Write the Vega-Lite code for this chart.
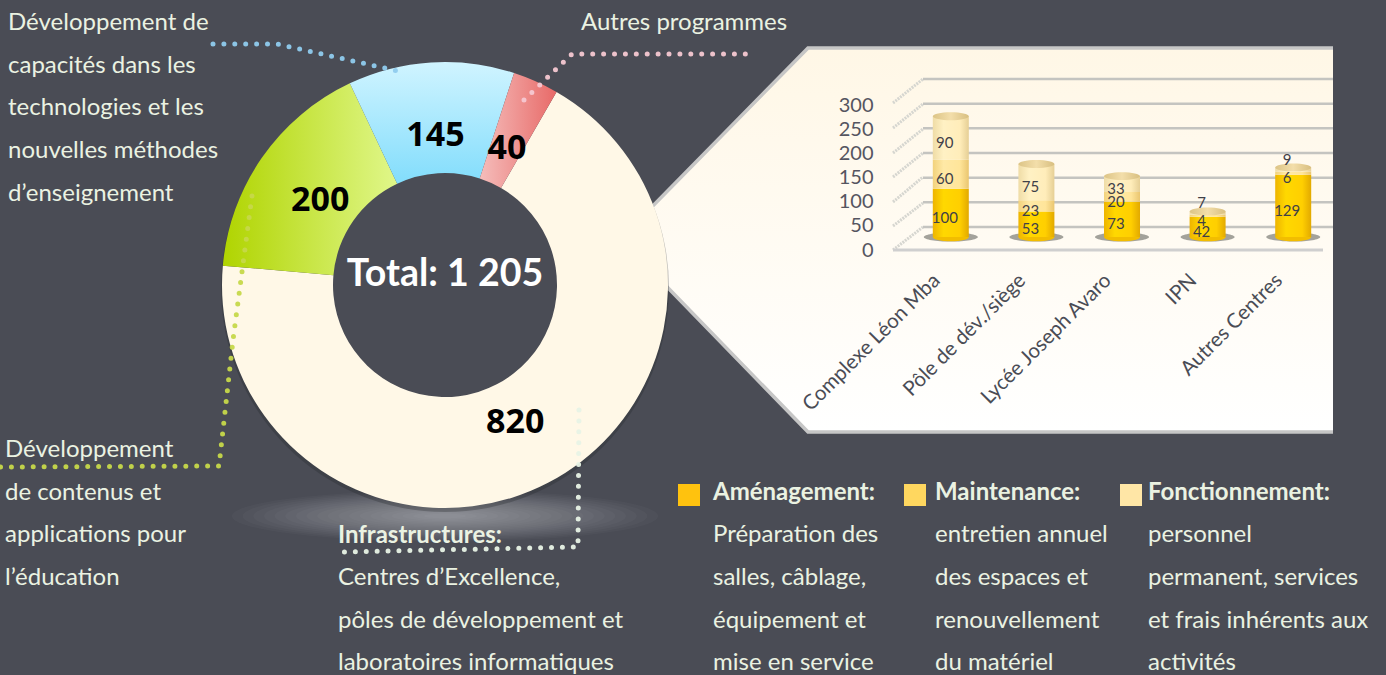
{
"$schema":"https://vega.github.io/schema/vega-lite/v6.json",
"width":1386,"height":675,"padding":0,"autosize":"none","background":"#4a4c55",
"config":{"view":{"stroke":null},"text":{"font":"Lato"}},
"datasets":{
"programmes":[
{"programme":"Infrastructures","montant":820,"rang":1},
{"programme":"Développement de contenus","montant":200,"rang":2},
{"programme":"Développement de capacités","montant":145,"rang":3},
{"programme":"Autres programmes","montant":40,"rang":4}],
"centres":[
{"site":"Complexe Léon Mba","poste":"Aménagement","value":100,"rang":1},
{"site":"Complexe Léon Mba","poste":"Maintenance","value":60,"rang":2},
{"site":"Complexe Léon Mba","poste":"Fonctionnement","value":90,"rang":3},
{"site":"Pôle de dév./siège","poste":"Aménagement","value":53,"rang":1},
{"site":"Pôle de dév./siège","poste":"Maintenance","value":23,"rang":2},
{"site":"Pôle de dév./siège","poste":"Fonctionnement","value":75,"rang":3},
{"site":"Lycée Joseph Avaro","poste":"Aménagement","value":73,"rang":1},
{"site":"Lycée Joseph Avaro","poste":"Maintenance","value":20,"rang":2},
{"site":"Lycée Joseph Avaro","poste":"Fonctionnement","value":33,"rang":3},
{"site":"IPN","poste":"Aménagement","value":42,"rang":1},
{"site":"IPN","poste":"Maintenance","value":4,"rang":2},
{"site":"IPN","poste":"Fonctionnement","value":7,"rang":3},
{"site":"Autres Centres","poste":"Aménagement","value":129,"rang":1},
{"site":"Autres Centres","poste":"Maintenance","value":6,"rang":2},
{"site":"Autres Centres","poste":"Fonctionnement","value":9,"rang":3}],
"graduations":[{"t":0},{"t":50},{"t":100},{"t":150},{"t":200},{"t":250},{"t":300}],
"panneau":[{"x":640,"y":219,"y2":259},{"x":808,"y":48,"y2":432},{"x":1333,"y":48,"y2":432}],
"cadre":[
{"k":"haut","i":1,"x":640,"y":219},{"k":"haut","i":2,"x":808,"y":48},{"k":"haut","i":3,"x":1333,"y":48},
{"k":"bas","i":1,"x":640,"y":259},{"k":"bas","i":2,"x":808,"y":432},{"k":"bas","i":3,"x":1333,"y":432}],
"parois":[
{"x":893,"y":250,"x2":923,"y2":227},{"x":893,"y":226,"x2":923,"y2":203},{"x":893,"y":202,"x2":923,"y2":177},
{"x":893,"y":177,"x2":923,"y2":153},{"x":893,"y":153,"x2":923,"y2":129},{"x":893,"y":128,"x2":923,"y2":104},{"x":893,"y":103,"x2":923,"y2":79}],
"sol":[{"x":893,"y":250,"x2":1323,"y2":250}],
"ombre":[{"s":181476},{"s":163782},{"s":146996},{"s":131116},{"s":116145},{"s":102080},{"s":88923},{"s":76674},{"s":65331},{"s":54896},{"s":45369},{"s":36749},{"s":29036},{"s":22231},{"s":16333},{"s":11342},{"s":7259},{"s":4083},{"s":1815}],
"filets":[
{"f":"capacites","i":1,"x":213,"y":44},{"f":"capacites","i":2,"x":277,"y":44},{"f":"capacites","i":3,"x":398,"y":71},
{"f":"autres","i":1,"x":524,"y":100},{"f":"autres","i":2,"x":572,"y":54},{"f":"autres","i":3,"x":753,"y":54},
{"f":"contenus","i":1,"x":252,"y":196},{"f":"contenus","i":2,"x":233,"y":340},{"f":"contenus","i":3,"x":219,"y":466},{"f":"contenus","i":4,"x":0,"y":467},
{"f":"infra","i":1,"x":579,"y":410},{"f":"infra","i":2,"x":578,"y":547},{"f":"infra","i":3,"x":340,"y":552}],
"carres":[{"poste":"Aménagement","x":689,"y":495},{"poste":"Maintenance","x":915,"y":495},{"poste":"Fonctionnement","x":1131,"y":495}],
"titres":[
{"t":"Infrastructures:","x":338,"y":534},{"t":"Aménagement:","x":713,"y":491},{"t":"Maintenance:","x":935,"y":491},{"t":"Fonctionnement:","x":1148,"y":491}],
"lignes":[
{"t":"Développement de","x":8,"y":22},{"t":"capacités dans les","x":8,"y":65},{"t":"technologies et  les","x":8,"y":107},{"t":"nouvelles méthodes","x":8,"y":150},{"t":"d’enseignement","x":8,"y":193},
{"t":"Autres programmes","x":581,"y":22},
{"t":"Développement","x":5,"y":449},{"t":"de contenus et","x":5,"y":492},{"t":"applications pour","x":5,"y":534},{"t":"l’éducation","x":5,"y":577},
{"t":"Centres d’Excellence,","x":338,"y":577},{"t":"pôles de développement et","x":338,"y":620},{"t":"laboratoires informatiques","x":338,"y":662},
{"t":"Préparation des","x":713,"y":534},{"t":"salles, câblage,","x":713,"y":577},{"t":"équipement et","x":713,"y":620},{"t":"mise en service","x":713,"y":662},
{"t":"entretien annuel","x":935,"y":534},{"t":"des espaces et","x":935,"y":577},{"t":"renouvellement","x":935,"y":620},{"t":"du matériel","x":935,"y":662},
{"t":"personnel","x":1148,"y":534},{"t":"permanent, services","x":1148,"y":577},{"t":"et frais inhérents aux","x":1148,"y":620},{"t":"activités","x":1148,"y":662}]
},
"resolve":{"scale":{"x":"independent","y":"independent","theta":"independent"},"axis":{"x":"independent","y":"independent"}},
"layer":[
{"data":{"name":"ombre"},"mark":{"type":"point","filled":true,"fill":"#ffffff","opacity":0.028,"shape":"M-1,0A1,0.12,0,1,1,1,0A1,0.12,0,1,1,-1,0Z"},
"encoding":{
"x":{"datum":445,"type":"quantitative","axis":null,"scale":{"domain":[0,1386],"range":[0,1386],"nice":false,"zero":false}},
"y":{"datum":516,"type":"quantitative","axis":null,"scale":{"domain":[0,675],"range":[0,675],"nice":false,"zero":false}},
"size":{"field":"s","type":"quantitative","scale":null}}},
{"encoding":{
"x":{"field":"x","type":"quantitative","axis":null,"scale":{"domain":[0,1386],"range":[0,1386],"nice":false,"zero":false}},
"y":{"field":"y","type":"quantitative","axis":null,"scale":{"domain":[0,675],"range":[0,675],"nice":false,"zero":false}}},
"layer":[
{"data":{"name":"panneau"},"mark":{"type":"area","fill":{"gradient":"linear","x1":0,"y1":0,"x2":0,"y2":1,"stops":[{"offset":0,"color":"#fff7e6"},{"offset":1,"color":"#ffffff"}]}},
"encoding":{"y2":{"field":"y2"}}},
{"data":{"name":"cadre"},"mark":{"type":"line","stroke":"#c6c6c6","strokeWidth":3.5},"encoding":{"detail":{"field":"k"},"order":{"field":"i"}}},
{"data":{"name":"parois"},"mark":{"type":"rule","stroke":"#d6d6d0","strokeWidth":3,"strokeDash":[2,1]},"encoding":{"x2":{"field":"x2"},"y2":{"field":"y2"}}},
{"data":{"name":"sol"},"mark":{"type":"rule","stroke":"#cfcfcf","strokeWidth":3},"encoding":{"x2":{"field":"x2"},"y2":{"field":"y2"}}}
]},
{"data":{"name":"graduations"},"mark":{"type":"rule","stroke":"#c4c4c0","strokeWidth":2.5},
"encoding":{
"y":{"field":"t","type":"quantitative","axis":null,"scale":{"domain":[0,300],"range":[227,79],"nice":false}},
"x":{"datum":923,"type":"quantitative","axis":null,"scale":{"domain":[0,1386],"range":[0,1386],"nice":false,"zero":false}},
"x2":{"datum":1333}}},
{"data":{"name":"centres"},
"encoding":{
"x":{"field":"site","type":"nominal","sort":null,"title":null,
"scale":{"type":"band","domain":["Complexe Léon Mba","Pôle de dév./siège","Lycée Joseph Avaro","IPN","Autres Centres"],"range":[908,1336],"paddingInner":0,"paddingOuter":0},
"axis":{"orient":"bottom","offset":-407,"zindex":1,"labelAngle":-45,"labelAlign":"right","labelBaseline":"top","labelOffset":-21,"labelLimit":400,"domain":false,"ticks":false,"labelFont":"Lato","labelFontSize":20.5,"labelColor":"#4a4c55","labelPadding":2,"labelOverlap":false}},
"y":{"field":"value","type":"quantitative","stack":"zero","title":null,
"scale":{"domain":[0,300],"range":[237,92],"nice":false},
"axis":{"orient":"left","offset":-873,"zindex":1,"values":[0,50,100,150,200,250,300],"labelOffset":13,"domain":false,"ticks":false,"grid":false,"labelFont":"Lato","labelFontSize":20,"labelColor":"#555560","labelPadding":0}}},
"layer":[
{"transform":[{"filter":"datum.rang===1"}],"mark":{"type":"point","filled":true,"opacity":0.8,"fill":"#8c8c84","size":2916,"shape":"M-1,0A1,0.17,0,1,1,1,0A1,0.17,0,1,1,-1,0Z"},
"encoding":{"y":{"datum":0,"type":"quantitative"}}},
{"transform":[{"filter":"datum.rang===1"}],"mark":{"type":"point","filled":true,"opacity":1,"fill":"#f2bd00","size":1296,"shape":"M-1,0A1,0.24,0,1,1,1,0A1,0.24,0,1,1,-1,0Z"},
"encoding":{"y":{"datum":0,"type":"quantitative"}}},
{"mark":{"type":"bar","size":36,"fill":{"expr":"datum.rang===1?{gradient:'linear',x1:0,y1:0,x2:1,y2:0,stops:[{offset:0,color:'#eeb400'},{offset:0.3,color:'#ffd800'},{offset:0.75,color:'#ffcf00'},{offset:1,color:'#e2a900'}]}:datum.rang===2?{gradient:'linear',x1:0,y1:0,x2:1,y2:0,stops:[{offset:0,color:'#f2d27c'},{offset:0.3,color:'#ffe9a6'},{offset:0.75,color:'#ffe59a'},{offset:1,color:'#eac670'}]}:{gradient:'linear',x1:0,y1:0,x2:1,y2:0,stops:[{offset:0,color:'#efdca6'},{offset:0.3,color:'#fff1c4'},{offset:0.75,color:'#ffedba'},{offset:1,color:'#e6cf95'}]}"}},
"encoding":{"detail":{"field":"poste"},"order":{"field":"rang"}}},
{"mark":{"type":"point","filled":true,"opacity":1,"size":1296,"shape":"M-1,0A1,0.22,0,1,1,1,0A1,0.22,0,1,1,-1,0Z",
"fill":{"gradient":"linear","x1":0,"y1":0,"x2":1,"y2":0,"stops":[{"offset":0,"color":"#dcc486"},{"offset":0.5,"color":"#f3deaa"},{"offset":1,"color":"#d8bf80"}]}},
"encoding":{"y":{"aggregate":"sum","field":"value","type":"quantitative","stack":null}}},
{"mark":{"type":"text","font":"Lato","fontSize":15,"fill":"#3f4048","dx":-6,"dy":{"expr":"datum.value===7||datum.value===9?-10:5"}},
"encoding":{"y":{"field":"value","type":"quantitative","stack":"zero","bandPosition":0.5},"detail":{"field":"poste"},"order":{"field":"rang"},"text":{"field":"value","type":"quantitative"}}}
]},
{"data":{"values":[{"disque":"ombre"}]},"mark":{"type":"point","filled":true,"size":200700,"fill":"#26272c","opacity":0.3},
"encoding":{
"x":{"datum":445,"type":"quantitative","axis":null,"scale":{"domain":[0,1386],"range":[0,1386],"nice":false,"zero":false}},
"y":{"datum":288,"type":"quantitative","axis":null,"scale":{"domain":[0,675],"range":[0,675],"nice":false,"zero":false}}}},
{"data":{"values":[{"disque":"centre"}]},"mark":{"type":"point","filled":true,"size":51000,"fill":"#4a4c55","opacity":1},
"encoding":{
"x":{"datum":445,"type":"quantitative","axis":null,"scale":{"domain":[0,1386],"range":[0,1386],"nice":false,"zero":false}},
"y":{"datum":285,"type":"quantitative","axis":null,"scale":{"domain":[0,675],"range":[0,675],"nice":false,"zero":false}}}},
{"data":{"name":"programmes"},
"encoding":{
"x":{"datum":445,"type":"quantitative","axis":null,"scale":{"domain":[0,1386],"range":[0,1386],"nice":false,"zero":false}},
"y":{"datum":285,"type":"quantitative","axis":null,"scale":{"domain":[0,675],"range":[0,675],"nice":false,"zero":false}},
"theta":{"field":"montant","type":"quantitative","stack":"zero","scale":{"domain":[0,1205],"range":[0.5236,6.8068]}},
"order":{"field":"rang"}},
"layer":[
{"mark":{"type":"arc","outerRadius":223,"innerRadius":112,"fill":{"expr":"datum.rang===1?'#fff8e7':datum.rang===2?{gradient:'linear',x1:0,y1:0,x2:1,y2:0,stops:[{offset:0,color:'#b0d400'},{offset:1,color:'#e0f78a'}]}:datum.rang===3?{gradient:'linear',x1:0,y1:0,x2:0,y2:1,stops:[{offset:0,color:'#d0f4ff'},{offset:1,color:'#82ddfc'}]}:{gradient:'linear',x1:0,y1:0,x2:1,y2:0,stops:[{offset:0,color:'#f5bdbb'},{offset:1,color:'#e86a68'}]}"}},
"encoding":{"detail":{"field":"programme"}}},
{"mark":{"type":"text","radius":152,"dy":3,"font":"Open Sans","fontWeight":"bold","fontSize":34,"fill":"#000000"},
"encoding":{"detail":{"field":"programme"},"text":{"field":"montant","type":"quantitative"}}}
]},
{"encoding":{
"x":{"field":"x","type":"quantitative","axis":null,"scale":{"domain":[0,1386],"range":[0,1386],"nice":false,"zero":false}},
"y":{"field":"y","type":"quantitative","axis":null,"scale":{"domain":[0,675],"range":[0,675],"nice":false,"zero":false}}},
"layer":[
{"data":{"name":"filets"},"mark":{"type":"line","strokeWidth":5,"strokeDash":[0,10.9],"strokeCap":"round","opacity":0.95},
"encoding":{"order":{"field":"i"},"color":{"field":"f","type":"nominal","legend":null,"scale":{"domain":["capacites","autres","contenus","infra"],"range":["#8fcbee","#f6c8d2","#c6d84a","#e8f3e6"]}}}},
{"data":{"name":"carres"},"mark":{"type":"point","shape":"square","filled":true,"opacity":1,"size":484},
"encoding":{"fill":{"field":"poste","type":"nominal","legend":null,"scale":{"domain":["Aménagement","Maintenance","Fonctionnement"],"range":["#ffc20e","#ffd75f","#ffe6a6"]}}}},
{"data":{"name":"titres"},"mark":{"type":"text","align":"left","baseline":"middle","dy":2,"font":"Lato","fontWeight":"bold","fontSize":24,"fill":"#eaf2e2"},"encoding":{"text":{"field":"t"}}},
{"data":{"name":"lignes"},"mark":{"type":"text","align":"left","baseline":"middle","dy":1,"font":"Lato","fontSize":24,"fill":"#eaf2e2"},"encoding":{"text":{"field":"t"}}},
{"data":{"values":[{"t":"Total: 1 205","x":445,"y":275}]},"mark":{"type":"text","align":"center","baseline":"middle","font":"Lato","fontWeight":"bold","fontSize":37.5,"fill":"#ffffff"},"encoding":{"text":{"field":"t"}}}
]}
]
}
